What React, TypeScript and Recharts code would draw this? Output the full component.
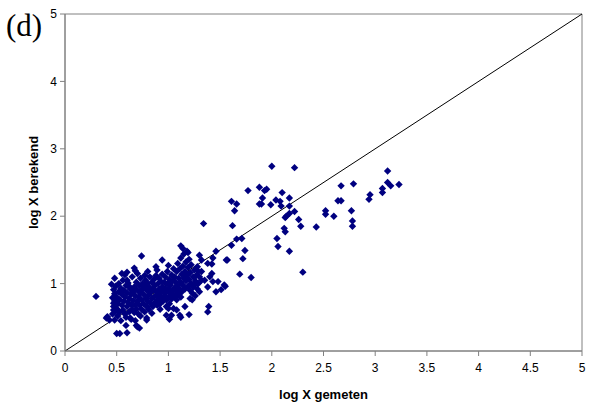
import React from 'react';
import {
  ScatterChart,
  Scatter,
  XAxis,
  YAxis,
  ReferenceLine,
  ReferenceArea,
  Label
} from 'recharts';

const corePointsLow: [number, number][] = [
  [0.46, 0.55], [0.47, 0.66], [0.48, 0.74], [0.46, 0.79], [0.48, 0.85], [0.47, 0.91], [0.49, 0.96],
  [0.50, 0.63], [0.51, 0.70], [0.50, 0.80], [0.52, 0.88], [0.53, 0.58], [0.53, 0.76], [0.54, 0.93],
  [0.52, 1.00], [0.55, 0.68], [0.55, 0.84], [0.49, 0.59], [0.51, 0.52], [0.54, 0.45],
  [0.56, 0.61], [0.57, 0.74], [0.57, 0.90], [0.58, 0.55], [0.58, 0.80], [0.59, 0.97], [0.60, 0.66],
  [0.60, 0.86], [0.61, 0.72], [0.61, 1.01], [0.62, 0.58], [0.62, 0.78], [0.63, 0.92], [0.63, 0.49],
  [0.64, 0.69], [0.64, 0.84], [0.65, 1.10], [0.65, 0.62], [0.56, 1.05], [0.59, 0.50], [0.62, 0.96],
  [0.60, 1.17],
  [0.66, 0.75], [0.66, 0.88], [0.67, 0.57], [0.67, 0.95], [0.68, 0.68], [0.68, 0.82], [0.69, 1.02],
  [0.69, 0.62], [0.70, 0.74], [0.70, 0.90], [0.71, 0.55], [0.71, 0.80], [0.72, 0.97], [0.72, 0.68],
  [0.73, 0.86], [0.73, 1.08], [0.74, 0.62], [0.74, 0.76], [0.75, 0.92], [0.75, 1.00], [0.70, 1.15],
  [0.68, 0.45], [0.73, 0.52]
];

const corePointsMid: [number, number][] = [
  [0.76, 0.70], [0.76, 0.84], [0.77, 0.96], [0.77, 0.58], [0.78, 0.78], [0.78, 1.05], [0.79, 0.66],
  [0.79, 0.90], [0.80, 0.74], [0.80, 1.00], [0.81, 0.83], [0.81, 0.62], [0.82, 0.94], [0.82, 1.10],
  [0.83, 0.70], [0.83, 0.87], [0.84, 0.78], [0.84, 1.02], [0.85, 0.92], [0.85, 0.66], [0.80, 1.18],
  [0.77, 1.12],
  [0.86, 0.80], [0.86, 1.06], [0.87, 0.72], [0.87, 0.97], [0.88, 0.88], [0.88, 1.12], [0.89, 0.68],
  [0.89, 0.83], [0.90, 1.00], [0.90, 0.76], [0.91, 0.92], [0.91, 1.08], [0.92, 0.70], [0.92, 0.86],
  [0.93, 1.03], [0.93, 0.80], [0.94, 0.95], [0.94, 1.14], [0.95, 0.74], [0.95, 0.89], [0.88, 1.25],
  [0.92, 0.62],
  [0.96, 1.02], [0.96, 0.82], [0.97, 0.93], [0.97, 1.10], [0.98, 0.76], [0.98, 0.87], [0.99, 1.00],
  [0.99, 1.18], [1.00, 0.80], [1.00, 0.92], [1.01, 1.06], [1.01, 0.70], [1.02, 0.86], [1.02, 0.98],
  [1.03, 1.13], [1.03, 0.77], [1.04, 0.90], [1.04, 1.04], [1.05, 0.83], [1.05, 1.22], [0.98, 0.66],
  [1.00, 1.27]
];

const corePointsHigh: [number, number][] = [
  [1.06, 0.94], [1.06, 1.10], [1.07, 0.80], [1.07, 1.02], [1.08, 1.18], [1.08, 0.88], [1.09, 1.30],
  [1.09, 0.97], [1.10, 1.08], [1.10, 0.84], [1.11, 1.22], [1.11, 0.92], [1.12, 1.38], [1.12, 1.02],
  [1.13, 1.14], [1.13, 0.88], [1.14, 1.26], [1.14, 0.98], [1.15, 1.44], [1.15, 1.08], [1.16, 1.18],
  [1.16, 0.92], [1.17, 1.32], [1.17, 1.04], [1.18, 1.12], [1.18, 1.48], [1.19, 0.96], [1.19, 1.24],
  [1.20, 1.06], [1.20, 1.36], [1.12, 0.80], [1.14, 1.52],
  [1.21, 0.90], [1.21, 1.16], [1.22, 1.00], [1.22, 1.28], [1.23, 0.86], [1.24, 1.10], [1.24, 0.95],
  [1.25, 1.20], [1.26, 1.04], [1.26, 0.82], [1.27, 1.12], [1.28, 0.92], [1.28, 1.25], [1.29, 1.00],
  [1.30, 1.10], [1.30, 0.88]
];

const edgePoints: [number, number][] = [
  [0.30, 0.81], [0.40, 0.49], [0.43, 0.46], [0.41, 0.51], [0.48, 0.46], [0.50, 0.26], [0.53, 0.26],
  [0.60, 0.27], [0.70, 0.36], [0.72, 0.34], [0.69, 0.38], [0.59, 0.38], [0.47, 0.61], [0.47, 0.71],
  [0.67, 1.23], [0.68, 1.19], [0.58, 1.13], [0.60, 1.05], [0.48, 1.08], [0.45, 0.99], [0.89, 1.20],
  [0.55, 1.15], [0.74, 1.41], [0.94, 1.35], [1.12, 1.56], [1.19, 1.46],
  [1.25, 0.98], [1.21, 0.78], [1.16, 0.66], [1.08, 0.61], [1.05, 0.63], [1.00, 0.63], [0.98, 0.53],
  [1.03, 0.53], [1.11, 0.53], [1.01, 0.47], [1.12, 0.50], [1.20, 0.54], [1.23, 0.76], [1.08, 0.76],
  [0.79, 0.46], [0.64, 0.47], [0.79, 0.49], [0.84, 0.56]
];

const risePoints: [number, number][] = [
  [1.46, 1.48], [1.42, 1.29], [1.30, 1.42], [1.32, 1.35], [1.43, 1.38], [1.38, 1.30], [1.56, 1.35],
  [1.29, 1.18], [1.32, 1.18], [1.42, 1.15], [1.40, 1.10], [1.35, 1.05], [1.32, 1.05], [1.43, 1.03],
  [1.48, 1.03], [1.54, 0.98], [1.51, 0.91], [1.46, 0.88], [1.38, 0.95], [1.38, 0.58], [1.55, 0.96],
  [1.39, 0.66], [1.34, 1.89]
];

const upperPoints: [number, number][] = [
  [2.00, 2.74], [2.22, 2.72], [1.88, 2.43], [1.93, 2.38], [1.95, 2.40], [1.77, 2.38], [2.10, 2.35],
  [1.91, 2.27], [2.04, 2.24], [2.08, 2.22], [2.17, 2.27], [1.61, 2.22], [1.66, 2.18], [1.88, 2.18],
  [1.90, 2.18], [1.99, 2.17], [2.09, 2.15], [2.17, 2.15], [1.64, 2.08], [2.17, 2.04], [2.22, 2.07],
  [2.14, 2.00], [2.13, 1.98], [2.26, 1.95], [2.28, 1.85], [2.12, 1.82], [2.13, 1.77], [1.62, 1.86],
  [1.66, 1.66], [1.71, 1.67], [1.61, 1.57], [2.05, 1.67], [2.06, 1.55], [1.74, 1.49], [2.17, 1.48],
  [1.57, 1.35], [1.72, 1.37], [1.69, 1.14], [1.80, 1.09], [2.30, 1.17]
];

const farPoints: [number, number][] = [
  [3.12, 2.67], [3.12, 2.50], [3.15, 2.45], [3.23, 2.47], [3.07, 2.41], [3.07, 2.35], [2.95, 2.32],
  [2.94, 2.25], [2.79, 2.48], [2.67, 2.45], [2.64, 2.23], [2.67, 2.23], [2.77, 2.08], [2.78, 1.93],
  [2.78, 1.85], [2.52, 2.08], [2.52, 2.03], [2.60, 2.00], [2.43, 1.84]
];

const xTicks = [0, 0.5, 1, 1.5, 2, 2.5, 3, 3.5, 4, 4.5, 5];
const yTicks = [0, 1, 2, 3, 4, 5];

const points = [
  ...corePointsLow,
  ...corePointsMid,
  ...corePointsHigh,
  ...edgePoints,
  ...risePoints,
  ...upperPoints,
  ...farPoints
].map(([x, y]) => ({ x, y }));

const NAVY = '#000080';
const AXIS_GRAY = '#808080';
const FONT = 'Arial, "Liberation Sans", sans-serif';

const Diamond = (props: any) => {
  const { cx, cy } = props;
  const r = 3.7;
  return (
    <path
      d={`M${cx},${cy - r}L${cx + r},${cy}L${cx},${cy + r}L${cx - r},${cy}Z`}
      fill={NAVY}
    />
  );
};

const tickStyle = { fill: '#000', fontSize: 12, fontFamily: FONT };

export default function App() {
  return (
    <div style={{ position: 'absolute', left: 0, top: 0, width: 589, height: 407, background: '#fff' }}>
      <div
        style={{
          position: 'absolute',
          left: 6,
          top: 10,
          fontFamily: '"Liberation Serif", "Times New Roman", serif',
          fontSize: 31,
          lineHeight: 1
        }}
      >
        (d)
      </div>
      <ScatterChart width={589} height={407} margin={{ top: 14, right: 7, bottom: 0, left: 25 }}>
        <XAxis
          type="number"
          dataKey="x"
          domain={[0, 5]}
          ticks={xTicks}
          height={56}
          stroke={AXIS_GRAY}
          tickSize={5}
          tickMargin={7}
          tick={tickStyle}
          interval={0}
        >
          <Label
            value="log X gemeten"
            position="insideBottom"
            offset={8}
            style={{ fontWeight: 'bold', fontSize: 13, fill: '#000', fontFamily: FONT }}
          />
        </XAxis>
        <YAxis
          type="number"
          dataKey="y"
          domain={[0, 5]}
          ticks={yTicks}
          width={40}
          stroke={AXIS_GRAY}
          tickSize={5}
          tickMargin={3}
          tick={tickStyle}
          interval={0}
        >
          <Label
            content={(props: any) => {
              const vb = props.viewBox || { x: 25, y: 14, width: 40, height: 337 };
              const cx = vb.x + 8;
              const cy = vb.y + vb.height / 2;
              return (
                <text
                  x={cx}
                  y={cy}
                  transform={`rotate(-90 ${cx} ${cy})`}
                  textAnchor="middle"
                  dominantBaseline="central"
                  style={{ fontWeight: 'bold', fontSize: 13, fill: '#000', fontFamily: FONT }}
                >
                  log X berekend
                </text>
              );
            }}
          />
        </YAxis>
        <ReferenceArea x1={0} x2={5} y1={0} y2={5} fill="none" stroke={AXIS_GRAY} strokeWidth={1} />
        <ReferenceLine
          segment={[{ x: 0, y: 0 }, { x: 5, y: 5 }]}
          stroke="#000"
          strokeWidth={1}
        />
        <Scatter data={points} shape={Diamond} isAnimationActive={false} />
      </ScatterChart>
    </div>
  );
}
